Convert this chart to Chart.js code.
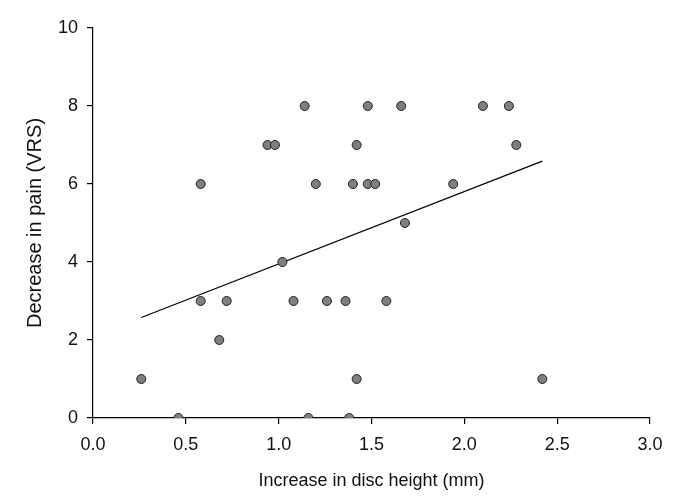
<!DOCTYPE html>
<html>
<head>
<meta charset="utf-8">
<script src="https://cdn.jsdelivr.net/npm/chart.js@4"></script>
<style>
  html, body { margin: 0; padding: 0; background: #fff; }
  #wrap { width: 685px; height: 496px; }
</style>
</head>
<body>
<div id="wrap"><canvas id="chart"></canvas></div>
<script>
// disc height increase (mm) vs decrease in pain (VRS)
const discHeight = [0.26, 0.46, 0.58, 0.58, 0.68, 0.72, 0.94, 0.98, 1.02, 1.08,
  1.14, 1.16, 1.20, 1.26, 1.36, 1.38, 1.40, 1.42, 1.42, 1.48,
  1.48, 1.52, 1.58, 1.66, 1.68, 1.94, 2.10, 2.24, 2.28, 2.42];
const painDecrease = [1, 0, 6, 3, 2, 3, 7, 7, 4, 3,
  8, 0, 6, 3, 3, 0, 6, 7, 1, 8,
  6, 6, 3, 8, 5, 6, 8, 8, 7, 1];
const xTicks = [0, 0.5, 1.0, 1.5, 2.0, 2.5, 3.0];
const yTicks = [0, 2, 4, 6, 8, 10];

// least squares fit, drawn from min to max x
const n = discHeight.length;
const mx = discHeight.reduce((a, b) => a + b, 0) / n;
const my = painDecrease.reduce((a, b) => a + b, 0) / n;
let sxy = 0, sxx = 0;
for (let i = 0; i < n; i++) {
  sxy += (discHeight[i] - mx) * (painDecrease[i] - my);
  sxx += (discHeight[i] - mx) ** 2;
}
const slope = sxy / sxx;
const icpt = my - slope * mx;
const xMin = Math.min(...discHeight), xMax = Math.max(...discHeight);
const fit = [xMin, xMax].map(x => ({ x: x, y: icpt + slope * x }));

const points = discHeight.map((x, i) => ({ x: x, y: painDecrease[i] }));

const fam = "'Liberation Sans', Arial, sans-serif";
const font = { family: fam, size: 18 };

new Chart(document.getElementById("chart"), {
  type: "scatter",
  data: {
    datasets: [
      {
        type: "line",
        data: fit,
        borderColor: "#000",
        borderWidth: 1.2,
        pointRadius: 0,
        fill: false,
        order: 2
      },
      {
        data: points,
        backgroundColor: "#7f7f7f",
        borderColor: "#222",
        borderWidth: 1,
        pointRadius: 4.5,
        order: 1
      }
    ]
  },
  options: {
    responsive: true,
    maintainAspectRatio: false,
    animation: false,
    layout: { padding: { top: 28, right: 35, left: 0, bottom: 0 } },
    plugins: { legend: { display: false }, tooltip: { enabled: false } },
    scales: {
      x: {
        type: "linear",
        min: 0, max: 3,
        afterBuildTicks: s => { s.ticks = xTicks.map(v => ({ value: v })); },
        afterFit: s => { s.height = 78; },
        border: { color: "#000", width: 1.2 },
        grid: { drawOnChartArea: false, color: "#000", tickLength: 6, lineWidth: 1.2 },
        ticks: { color: "#111", font: font, padding: 10, maxRotation: 0,
          callback: v => v.toFixed(1) },
        title: { display: true, text: "Increase in disc height (mm)", color: "#111",
          font: font, padding: { bottom: 4 } }
      },
      y: {
        min: 0, max: 10,
        afterBuildTicks: s => { s.ticks = yTicks.map(v => ({ value: v })); },
        afterFit: s => { s.width = 93; },
        border: { color: "#000", width: 1.2 },
        grid: { drawOnChartArea: false, color: "#000", tickLength: 6, lineWidth: 1.2 },
        ticks: { color: "#111", font: font, padding: 9 },
        title: { display: true, text: "Decrease in pain (VRS)", color: "#111",
          font: { family: fam, size: 20 }, padding: { top: 23 } }
      }
    }
  }
});
</script>
</body>
</html>
